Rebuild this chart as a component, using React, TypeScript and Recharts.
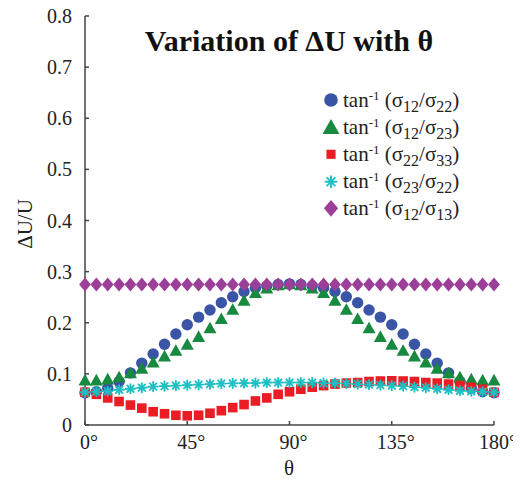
import React from 'react';
import { LineChart, Line, XAxis, YAxis } from 'recharts';

const theta = [0, 5, 10, 15, 20, 25, 30, 35, 40, 45, 50, 55, 60, 65, 70, 75, 80, 85, 90, 95, 100, 105, 110, 115, 120, 125, 130, 135, 140, 145, 150, 155, 160, 165, 170, 175, 180];
const s12s22 = [0.063, 0.065, 0.072, 0.085, 0.102, 0.121, 0.139, 0.158, 0.178, 0.196, 0.211, 0.225, 0.239, 0.251, 0.261, 0.268, 0.272, 0.275, 0.276, 0.275, 0.272, 0.268, 0.261, 0.251, 0.239, 0.225, 0.211, 0.196, 0.178, 0.158, 0.139, 0.121, 0.102, 0.085, 0.072, 0.065, 0.063];
const s12s23 = [0.087, 0.087, 0.089, 0.093, 0.101, 0.110, 0.122, 0.134, 0.145, 0.157, 0.172, 0.189, 0.207, 0.225, 0.243, 0.258, 0.267, 0.273, 0.275, 0.273, 0.267, 0.258, 0.243, 0.225, 0.207, 0.189, 0.172, 0.157, 0.145, 0.134, 0.122, 0.110, 0.101, 0.093, 0.089, 0.087, 0.087];
const s22s33 = [0.064, 0.060, 0.053, 0.046, 0.039, 0.033, 0.026, 0.022, 0.019, 0.018, 0.019, 0.023, 0.028, 0.034, 0.040, 0.047, 0.053, 0.060, 0.065, 0.070, 0.074, 0.077, 0.080, 0.082, 0.083, 0.085, 0.086, 0.0865, 0.086, 0.085, 0.083, 0.082, 0.080, 0.077, 0.074, 0.070, 0.064];
const s23s22 = [0.064, 0.065, 0.066, 0.069, 0.071, 0.073, 0.075, 0.076, 0.077, 0.078, 0.079, 0.080, 0.081, 0.0815, 0.082, 0.082, 0.083, 0.083, 0.083, 0.083, 0.083, 0.082, 0.082, 0.081, 0.080, 0.079, 0.078, 0.077, 0.076, 0.074, 0.073, 0.071, 0.069, 0.067, 0.066, 0.065, 0.064];
const s12s13 = [0.275, 0.275, 0.275, 0.275, 0.275, 0.275, 0.275, 0.275, 0.275, 0.275, 0.275, 0.275, 0.275, 0.275, 0.275, 0.275, 0.275, 0.275, 0.275, 0.275, 0.275, 0.275, 0.275, 0.275, 0.275, 0.275, 0.275, 0.275, 0.275, 0.275, 0.275, 0.275, 0.275, 0.275, 0.275, 0.275, 0.275];

const xTicks = [0, 45, 90, 135, 180];
const yTicks = [0, 0.1, 0.2, 0.3, 0.4, 0.5, 0.6, 0.7, 0.8];

const legendItems = [
  { key: 'a', sub1: '12', sub2: '22' },
  { key: 'b', sub1: '12', sub2: '23' },
  { key: 'c', sub1: '22', sub2: '33' },
  { key: 'd', sub1: '23', sub2: '22' },
  { key: 'e', sub1: '12', sub2: '13' },
];

const data = theta.map((t, i) => ({
  theta: t,
  a: s12s22[i],
  b: s12s23[i],
  c: s22s33[i],
  d: s23s22[i],
  e: s12s13[i],
}));

const FONT = 'Liberation Serif';
const BLUE = '#3a54a6';
const GREEN = '#178a3f';
const RED = '#ec1c24';
const CYAN = '#1ebfc3';
const PURPLE = '#9c3f98';

function Marker({ kind, cx, cy, scale = 1 }: { kind: string; cx: number; cy: number; scale?: number }) {
  const s = scale;
  if (kind === 'a') return <circle cx={cx} cy={cy} r={5.7 * s} fill={BLUE} />;
  if (kind === 'b') {
    const w = 6.5 * s, up = 6.7 * s, dn = 4.9 * s;
    return <polygon points={`${cx},${cy - up} ${cx + w},${cy + dn} ${cx - w},${cy + dn}`} fill={GREEN} />;
  }
  if (kind === 'c') {
    const h = 4.8 * s;
    return <rect x={cx - h} y={cy - h} width={2 * h} height={2 * h} fill={RED} />;
  }
  if (kind === 'd') {
    const r = 4.6 * s, q = r * 0.7071;
    return (
      <g stroke={CYAN} strokeWidth={1.9} strokeLinecap="round">
        <line x1={cx - r} y1={cy} x2={cx + r} y2={cy} />
        <line x1={cx} y1={cy - r} x2={cx} y2={cy + r} />
        <line x1={cx - q} y1={cy - q} x2={cx + q} y2={cy + q} />
        <line x1={cx - q} y1={cy + q} x2={cx + q} y2={cy - q} />
      </g>
    );
  }
  const w = 5.9 * s, h = 7 * s;
  return <polygon points={`${cx},${cy - h} ${cx + w},${cy} ${cx},${cy + h} ${cx - w},${cy}`} fill={PURPLE} />;
}

const makeDot = (kind: string) => (p: any) => {
  if (p.cx == null || p.cy == null) return <g key={`${kind}${p.index}`} />;
  return (
    <g key={`${kind}${p.index}`}>
      <Marker kind={kind} cx={p.cx} cy={p.cy} />
    </g>
  );
};

const AXIS = '#444';

export default function App() {
  const W = 513;
  const H = 471;
  const rowY = [92, 119.7, 146.3, 173.7, 200.3];
  return (
    <div style={{ position: 'relative', width: W, height: H, fontFamily: FONT }}>
      <LineChart width={W} height={H} data={data} margin={{ top: 8, right: 27, bottom: 0, left: 0 }} style={{ fontFamily: FONT, overflow: 'visible' }}>
        <XAxis
          dataKey="theta"
          type="number"
          domain={[0, 180]}
          ticks={xTicks}
          tickFormatter={(v: number) => `${v}°`}
          height={54}
          stroke={AXIS}
          strokeWidth={1.5}
          tickSize={-4}
          tickMargin={14}
          tick={{ fill: '#222', fontSize: 20, fontFamily: FONT, dx: 4 } as any}
          interval={0}
        />
        <XAxis
          xAxisId="top"
          orientation="top"
          dataKey="theta"
          type="number"
          domain={[0, 180]}
          ticks={xTicks}
          tickFormatter={() => ''}
          height={0}
          stroke={AXIS}
          strokeWidth={1.5}
          tickSize={-4}
          interval={0}
        />
        <YAxis
          type="number"
          domain={[0, 0.8]}
          ticks={yTicks}
          tickFormatter={(v: number) => (v === 0 ? '0' : v.toFixed(1))}
          width={77}
          stroke={AXIS}
          strokeWidth={1.5}
          tickSize={-4}
          tickMargin={17}
          tick={{ fill: '#222', fontSize: 20, fontFamily: FONT }}
          interval={0}
        />
        <YAxis
          yAxisId="right"
          orientation="right"
          type="number"
          domain={[0, 0.8]}
          ticks={yTicks}
          tickFormatter={() => ''}
          width={0}
          stroke={AXIS}
          strokeWidth={1.5}
          tickSize={-4}
          interval={0}
        />
        <Line dataKey="a" stroke="none" isAnimationActive={false} dot={makeDot('a')} activeDot={false} />
        <Line dataKey="b" stroke="none" isAnimationActive={false} dot={makeDot('b')} activeDot={false} />
        <Line dataKey="c" stroke="none" isAnimationActive={false} dot={makeDot('c')} activeDot={false} />
        <Line dataKey="d" stroke={CYAN} strokeWidth={1} isAnimationActive={false} dot={makeDot('d')} activeDot={false} />
        <Line dataKey="e" stroke="none" isAnimationActive={false} dot={makeDot('e')} activeDot={false} />
      </LineChart>
      <svg width={W} height={H} style={{ position: 'absolute', left: 0, top: 0, pointerEvents: 'none', overflow: 'visible' }}>
        <text x={281} y={43} textAnchor="middle" style={{ fontFamily: FONT }} fontWeight="bold" fontSize={30} fill="#111">
          Variation of ΔU with θ
        </text>
        <text x={24} y={216} textAnchor="middle" style={{ fontFamily: FONT }} fontSize={21} fill="#222" transform="rotate(-90 24 216)">
          ΔU/U
        </text>
        <text x={281} y={467} textAnchor="middle" style={{ fontFamily: FONT }} fontSize={21} fill="#222">
          θ
        </text>
        {legendItems.map((it, i) => (
          <g key={it.key}>
            <Marker kind={it.key} cx={323} cy={rowY[i]} scale={it.key === 'b' ? 1.3 : it.key === 'c' ? 0.95 : 1.2} />
            <text x={335} y={rowY[i] + 6.7} style={{ fontFamily: FONT }} fontSize={21} fill="#222">
              tan
              <tspan dy={-7} fontSize={13}>-1</tspan>
              <tspan dy={7} fontSize={21}> (σ</tspan>
              <tspan dy={5} fontSize={16}>{it.sub1}</tspan>
              <tspan dy={-5} fontSize={21}>/σ</tspan>
              <tspan dy={5} fontSize={16}>{it.sub2}</tspan>
              <tspan dy={-5} fontSize={21}>)</tspan>
            </text>
          </g>
        ))}
      </svg>
    </div>
  );
}
